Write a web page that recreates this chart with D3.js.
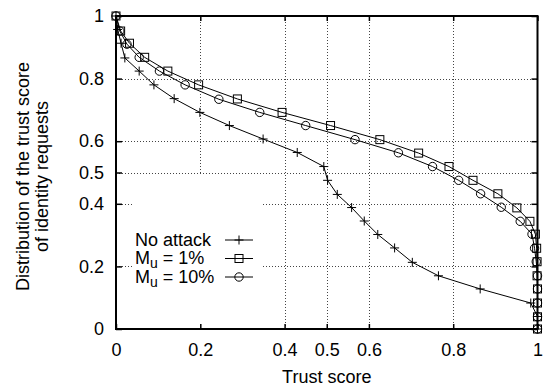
<!DOCTYPE html>
<html><head><meta charset="utf-8">
<script src="https://cdn.jsdelivr.net/npm/d3@7/dist/d3.min.js"></script>
<style>
body{margin:0;background:#fff;}
svg text{font-family:"Liberation Sans",Arial,Helvetica,sans-serif;fill:#000;}
</style></head>
<body><svg id="c" width="543" height="389"></svg>
<script>
// ---- data ----
const noAttackX = [0, 0.004, 0.012, 0.021, 0.055, 0.090, 0.138, 0.199, 0.269, 0.349, 0.430, 0.493, 0.502, 0.525, 0.559, 0.589, 0.621, 0.661, 0.703, 0.765, 0.864, 0.984, 1, 1];
const noAttackY = [1, 0.957, 0.913, 0.866, 0.824, 0.780, 0.736, 0.692, 0.650, 0.607, 0.564, 0.519, 0.475, 0.430, 0.388, 0.345, 0.302, 0.259, 0.213, 0.170, 0.128, 0.083, 0.040, 0];
const mu1X = [0, 0.011, 0.032, 0.068, 0.123, 0.196, 0.288, 0.394, 0.509, 0.626, 0.718, 0.790, 0.847, 0.906, 0.951, 0.982, 0.995, 0.998, 0.999, 0.999, 1, 1, 1, 1];
const mu1Y = [1, 0.952, 0.913, 0.868, 0.824, 0.780, 0.735, 0.692, 0.650, 0.605, 0.562, 0.519, 0.475, 0.432, 0.387, 0.344, 0.303, 0.258, 0.215, 0.170, 0.128, 0.083, 0.039, 0];
const mu10X = [0, 0.009, 0.026, 0.055, 0.103, 0.164, 0.244, 0.341, 0.450, 0.567, 0.670, 0.751, 0.813, 0.865, 0.914, 0.959, 0.987, 0.993, 0.997, 1, 1, 1, 1, 1];
const mu10Y = [1, 0.952, 0.910, 0.868, 0.824, 0.780, 0.734, 0.692, 0.650, 0.605, 0.563, 0.519, 0.475, 0.432, 0.389, 0.344, 0.303, 0.258, 0.215, 0.170, 0.128, 0.083, 0.039, 0];
const seriesNames = ["No attack", "M_u = 1%", "M_u = 10%"];
const xTicks = [0, 0.2, 0.4, 0.5, 0.6, 0.8, 1];
const yTicks = [0, 0.2, 0.4, 0.5, 0.6, 0.8, 1];
const xTickLabels = ["0", "0.2", "0.4", "0.5", "0.6", "0.8", "1"];
const yTickLabels = ["0", "0.2", "0.4", "0.5", "0.6", "0.8", "1"];
const xTitle = "Trust score";
const yTitle = ["Distribution of the trust score", "of identity requests"];

// ---- layout ----
const L = 116, R = 537.5, T = 16, B = 329;
const svg = d3.select("#c");
const x = d3.scaleLinear().domain([0, 1]).range([L, R]);
const y = d3.scaleLinear().domain([0, 1]).range([B, T]);
const FS = 18;

// grid
const grid = svg.append("g").attr("stroke", "#444").attr("stroke-width", 1).attr("stroke-dasharray", "1,2");
grid.selectAll("line.gx").data(xTicks.filter(v => v > 0 && v < 1)).join("line")
  .attr("x1", d => Math.round(x(d)) + 0.5).attr("x2", d => Math.round(x(d)) + 0.5)
  .attr("y1", T).attr("y2", B);
grid.selectAll("line.gy").data(yTicks.filter(v => v > 0 && v < 1)).join("line")
  .attr("y1", d => Math.round(y(d)) + 0.5).attr("y2", d => Math.round(y(d)) + 0.5)
  .attr("x1", L).attr("x2", R);

// opaque key area
svg.append("rect").attr("x", 133).attr("y", y(0.5) + 2).attr("width", 130).attr("height", B - y(0.5) - 3).attr("fill", "#fff");

// axes
const fmtX = (d) => xTickLabels[xTicks.indexOf(d)];
const fmtY = (d) => yTickLabels[yTicks.indexOf(d)];
function styleAxis(g) {
  g.select(".domain").remove();
  g.selectAll("line").attr("stroke", "#000").attr("stroke-width", 1.5);
  g.selectAll("text").attr("font-size", FS).attr("font-family", "Liberation Sans, Arial, sans-serif").attr("fill", "#000");
}
svg.append("g").attr("transform", `translate(0,${B})`)
  .call(d3.axisBottom(x).tickValues(xTicks).tickFormat(fmtX).tickSize(-5).tickPadding(14)).call(styleAxis);
svg.append("g").attr("transform", `translate(0,${T})`)
  .call(d3.axisTop(x).tickValues(xTicks).tickFormat("").tickSize(-5)).call(styleAxis);
svg.append("g").attr("transform", `translate(${L},0)`)
  .call(d3.axisLeft(y).tickValues(yTicks).tickFormat(fmtY).tickSize(-6).tickPadding(12)).call(styleAxis);
svg.append("g").attr("transform", `translate(${R},0)`)
  .call(d3.axisRight(y).tickValues(yTicks).tickFormat("").tickSize(-6)).call(styleAxis);

// frame
svg.append("rect").attr("x", L).attr("y", T).attr("width", R - L).attr("height", B - T)
  .attr("fill", "none").attr("stroke", "#000").attr("stroke-width", 2);

// series
const series = [
  {xs: noAttackX, ys: noAttackY, marker: "plus"},
  {xs: mu1X, ys: mu1Y, marker: "square"},
  {xs: mu10X, ys: mu10Y, marker: "circle"}
];
const line = d3.line().x(d => x(d[0])).y(d => y(d[1]));
function drawMarker(g, type, cx, cy) {
  if (type === "plus") {
    g.append("path").attr("d", `M${cx-4.5},${cy}H${cx+4.5}M${cx},${cy-4.5}V${cy+4.5}`)
      .attr("stroke", "#000").attr("stroke-width", 1).attr("fill", "none");
  } else if (type === "square") {
    g.append("rect").attr("x", cx - 4).attr("y", cy - 4).attr("width", 8).attr("height", 8)
      .attr("stroke", "#000").attr("stroke-width", 1).attr("fill", "none");
  } else {
    g.append("circle").attr("cx", cx).attr("cy", cy).attr("r", 4.2)
      .attr("stroke", "#000").attr("stroke-width", 1).attr("fill", "none");
  }
}
series.forEach(s => {
  const pts = s.xs.map((v, i) => [v, s.ys[i]]);
  const g = svg.append("g");
  g.append("path").attr("d", line(pts)).attr("fill", "none").attr("stroke", "#000").attr("stroke-width", 1);
  pts.forEach(p => drawMarker(g, s.marker, x(p[0]), y(p[1])));
});

// legend
const legY = [240, 258.5, 277];
series.forEach((s, i) => {
  const g = svg.append("g");
  const t = g.append("text").attr("x", 135).attr("y", legY[i] + 5.5).attr("font-size", FS);
  const name = seriesNames[i];
  if (name.startsWith("M_u")) {
    t.append("tspan").text("M");
    t.append("tspan").attr("font-size", 14).attr("dy", 4).text("u");
    t.append("tspan").attr("dy", -4).text(name.slice(3));
  } else {
    t.text(name);
  }
  g.append("line").attr("x1", 225).attr("x2", 253).attr("y1", legY[i]).attr("y2", legY[i])
    .attr("stroke", "#000").attr("stroke-width", 1);
  drawMarker(g, s.marker, 239, legY[i]);
});

// titles
svg.append("text").attr("x", (L + R) / 2).attr("y", 383).attr("text-anchor", "middle").attr("font-size", FS).text(xTitle);
yTitle.forEach((t, i) => {
  svg.append("text").attr("transform", `translate(${29 + i * 18.5},${(T + B) / 2 + 4}) rotate(-90)`)
    .attr("text-anchor", "middle").attr("font-size", FS).text(t);
});
</script></body></html>
